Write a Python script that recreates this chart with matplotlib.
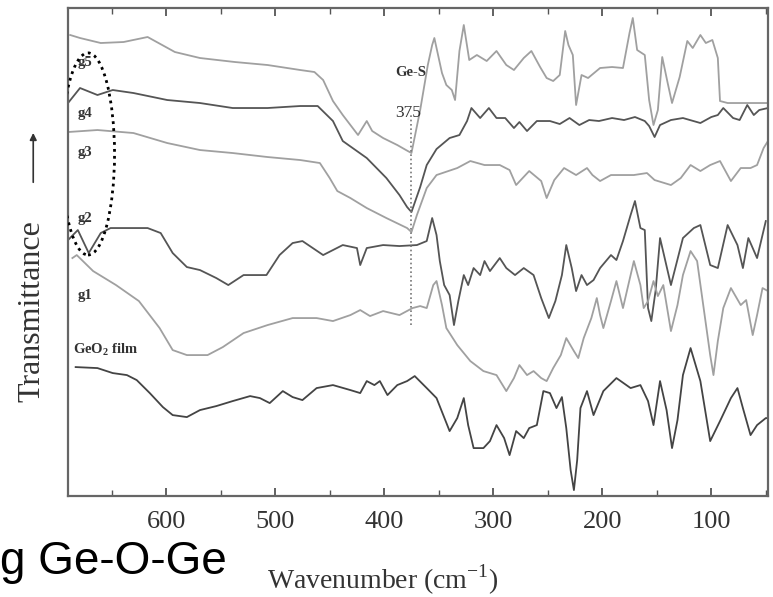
import matplotlib
matplotlib.use("Agg")
import matplotlib.pyplot as plt
from matplotlib.patches import Ellipse, FancyArrowPatch
from matplotlib.ticker import MultipleLocator

# ---- far-IR transmittance spectra (arbitrary units, offset for clarity) ----
g5_wn = [688, 679, 660, 639, 617, 592, 569, 537, 507, 477, 464, 456, 447, 438, 424, 416, 411, 401,
         388, 380, 375, 367, 360, 356, 354, 347, 343, 338, 335, 331, 327, 322, 315, 306, 297, 288,
         281, 272, 265, 257, 251, 245, 239, 234, 231, 227, 224, 219, 213, 202, 191, 181, 175, 172,
         168, 161, 157, 153, 149, 145, 140, 136, 129, 122, 117, 110, 105, 99, 94, 92, 85, 48]
g5_t = [461, 458, 453, 454, 459, 444, 438, 434, 431, 426, 424, 416, 395, 381, 361, 375, 365, 358,
        351, 346, 343, 386, 431, 451, 458, 423, 411, 406, 396, 445, 471, 436, 441, 435, 445, 431,
        426, 438, 445, 429, 418, 415, 421, 465, 451, 441, 391, 421, 418, 428, 429, 428, 463, 478,
        446, 441, 396, 371, 386, 439, 413, 393, 419, 455, 448, 461, 453, 456, 438, 395, 393, 393]

g4_wn = [690, 679, 663, 649, 630, 599, 569, 539, 507, 477, 461, 447, 438, 416, 398, 386, 379, 375,
         367, 361, 352, 340, 331, 324, 320, 312, 304, 297, 289, 281, 276, 269, 260, 248, 239, 230,
         221, 212, 203, 191, 180, 170, 161, 157, 152, 147, 137, 126, 110, 100, 94, 89, 80, 74, 67,
         61, 56, 48]
g4_t = [393, 408, 401, 406, 403, 396, 393, 388, 388, 390, 390, 375, 355, 338, 318, 301, 289, 284,
        309, 331, 347, 358, 361, 375, 388, 378, 388, 378, 378, 368, 374, 365, 375, 375, 372, 378,
        371, 376, 375, 378, 376, 379, 375, 370, 359, 371, 376, 378, 373, 379, 381, 388, 378, 376,
        391, 381, 386, 388]

g3_wn = [690, 663, 630, 599, 569, 539, 507, 477, 459, 450, 443, 431, 416, 398, 379, 375, 370, 361,
         352, 333, 321, 308, 294, 285, 279, 273, 267, 256, 251, 244, 235, 224, 214, 209, 202, 192,
         171, 159, 152, 137, 128, 119, 110, 101, 92, 82, 73, 64, 58, 52, 48]
g3_t = [364, 366, 363, 353, 346, 343, 339, 336, 333, 318, 305, 298, 288, 278, 268, 264, 281, 308,
        321, 328, 335, 331, 331, 326, 311, 318, 325, 315, 298, 316, 328, 321, 328, 321, 315, 321,
        321, 323, 316, 311, 318, 331, 325, 331, 335, 315, 328, 328, 331, 348, 355]

g2_wn = [690, 681, 671, 660, 651, 617, 605, 594, 581, 569, 554, 543, 529, 508, 496, 484, 475, 456,
         438, 425, 422, 416, 401, 386, 370, 361, 356, 352, 349, 345, 340, 336, 332, 327, 323, 318,
         312, 308, 303, 294, 288, 280, 272, 263, 256, 249, 243, 237, 233, 228, 224, 219, 214, 208,
         202, 192, 187, 181, 174, 170, 165, 161, 158, 155, 151, 147, 137, 126, 116, 110, 101, 94,
         85, 76, 71, 66, 58, 50]
g2_t = [256, 266, 243, 263, 268, 268, 263, 243, 229, 226, 218, 211, 221, 221, 241, 253, 255, 241,
        251, 248, 231, 248, 251, 250, 251, 255, 278, 261, 235, 211, 201, 171, 195, 221, 211, 228,
        221, 235, 225, 238, 228, 221, 228, 221, 198, 178, 195, 221, 251, 228, 205, 221, 211, 216,
        228, 241, 236, 255, 281, 295, 268, 266, 188, 175, 206, 258, 211, 258, 268, 271, 231, 228,
        271, 251, 228, 258, 238, 275]

g1_wn = [686, 682, 667, 646, 625, 606, 594, 581, 562, 548, 529, 507, 484, 462, 447, 431, 422, 413,
         401, 386, 374, 367, 361, 355, 352, 347, 343, 333, 321, 309, 297, 288, 281, 276, 269, 263,
         256, 251, 245, 238, 233, 226, 222, 217, 210, 205, 202, 199, 192, 187, 181, 174, 171, 165,
         162, 158, 153, 149, 144, 137, 131, 126, 119, 113, 107, 101, 98, 94, 89, 82, 73, 68, 62,
         58, 53, 48]
g1_t = [238, 241, 225, 211, 195, 168, 146, 141, 141, 149, 163, 171, 178, 178, 175, 181, 186, 180,
        185, 181, 188, 190, 188, 211, 215, 191, 168, 151, 135, 125, 121, 105, 118, 131, 121, 125,
        118, 115, 128, 141, 158, 145, 138, 158, 178, 198, 181, 168, 195, 215, 188, 221, 235, 211,
        188, 195, 215, 200, 211, 165, 191, 221, 245, 235, 188, 141, 121, 155, 188, 208, 191, 196,
        161, 181, 208, 205]

geo2_wn = [683, 663, 649, 636, 627, 615, 603, 594, 581, 569, 554, 539, 523, 514, 505, 493, 484, 475,
           462, 447, 431, 422, 416, 409, 404, 397, 388, 379, 372, 361, 352, 340, 333, 327, 323, 318,
           309, 303, 297, 290, 285, 279, 272, 267, 260, 254, 248, 242, 237, 233, 229, 226, 223, 220,
           214, 208, 199, 187, 174, 165, 158, 153, 147, 141, 136, 131, 126, 119, 110, 101, 92, 82,
           76, 71, 64, 58, 50, 48]
geo2_t = [129, 128, 123, 121, 116, 103, 89, 81, 79, 86, 90, 95, 100, 98, 93, 105, 99, 96,
          108, 111, 106, 103, 115, 111, 115, 101, 111, 115, 120, 108, 98, 65, 78, 98, 71, 48,
          48, 55, 71, 58, 41, 65, 58, 68, 71, 105, 103, 88, 99, 68, 26, 6, 36, 88,
          105, 81, 105, 118, 108, 111, 95, 71, 115, 86, 48, 76, 121, 148, 115, 55, 75, 98,
          108, 88, 61, 71, 78, 78]

# trace label, label position (wavenumber, transmittance)
labels = ["g5", "g4", "g3", "g2", "g1", r"GeO$_{\mathbf{2}}$ film"]
label_wn = [681, 681, 681, 681, 681, 685]
label_t = [434, 383, 344, 278, 201, 146]

GES_WN = 375
GES_LINE = (171, 381)

LIGHT = "#a0a0a0"
DARK = "#555555"
SERIF = ["Liberation Serif", "DejaVu Serif"]

plt.rcParams["font.family"] = SERIF
plt.rcParams["mathtext.fontset"] = "custom"
plt.rcParams["mathtext.rm"] = "Liberation Serif"
plt.rcParams["mathtext.bf"] = "Liberation Serif:bold"

fig = plt.figure(figsize=(7.73, 5.97), dpi=100)
ax = fig.add_axes([0.088, 0.169, 0.9055, 0.8176])

series = [
    (g5_wn, g5_t, LIGHT),
    (g4_wn, g4_t, DARK),
    (g3_wn, g3_t, LIGHT),
    (g2_wn, g2_t, DARK),
    (g1_wn, g1_t, LIGHT),
    (geo2_wn, geo2_t, "#444444"),
]
for wn, t, c in series:
    ax.plot(wn, t, color=c, lw=1.3, solid_joinstyle="round")

for lab, x, y in zip(labels, label_wn, label_t):
    ax.text(x, y, lab, fontsize=10.5, fontweight="bold", color="#333333",
            ha="left", va="center")

# Ge-S band marker
ax.vlines(GES_WN, *GES_LINE, colors="#777777", linestyles=(0, (1, 1.6)), lw=1.2)
ax.text(GES_WN + 1, 424, "Ge-S", fontsize=10.5, fontweight="bold", color="#333333",
        ha="center", va="center")
ax.text(GES_WN + 3, 383, str(GES_WN), fontsize=12.5, color="#333333",
        ha="center", va="center")

# dotted ring round the sample labels
ax.add_patch(Ellipse((0.0286, 0.701), 0.0757, 0.414, transform=ax.transAxes,
                     fill=False, ec="black", lw=2.0, ls=(0, (1, 1.5)), zorder=5))

ax.set_xlim(690, 48)
ax.set_ylim(0, 488)
ax.xaxis.set_major_locator(MultipleLocator(100))
ax.xaxis.set_minor_locator(MultipleLocator(50))
ax.set_yticks([])
ax.tick_params(axis="x", which="both", direction="in", top=True, bottom=True,
               color="#555555", labelsize=19, labelcolor="#333333", pad=11)
ax.tick_params(axis="x", which="major", length=6, width=1.3)
ax.tick_params(axis="x", which="minor", length=4, width=1.0)
for s in ax.spines.values():
    s.set_color("#666666")
    s.set_linewidth(1.6)

fig.text(0.495, 0.028, r"Wavenumber (cm$^{\mathregular{-1}}$)", fontsize=20,
         color="#333333", ha="center", va="center")
fig.text(0.041, 0.479, "Transmittance", fontsize=23, color="#333333",
         rotation=90, ha="center", va="center")
fig.add_artist(FancyArrowPatch(
    (0.043, 0.69), (0.043, 0.782), transform=fig.transFigure,
    arrowstyle="-|>,head_length=4,head_width=2", color="#333333", lw=1.2))

fig.text(0.0, 0.058, "g Ge-O-Ge", fontsize=33, family="Liberation Sans",
         color="black", ha="left", va="center")

fig.savefig("out.png", dpi=100)
